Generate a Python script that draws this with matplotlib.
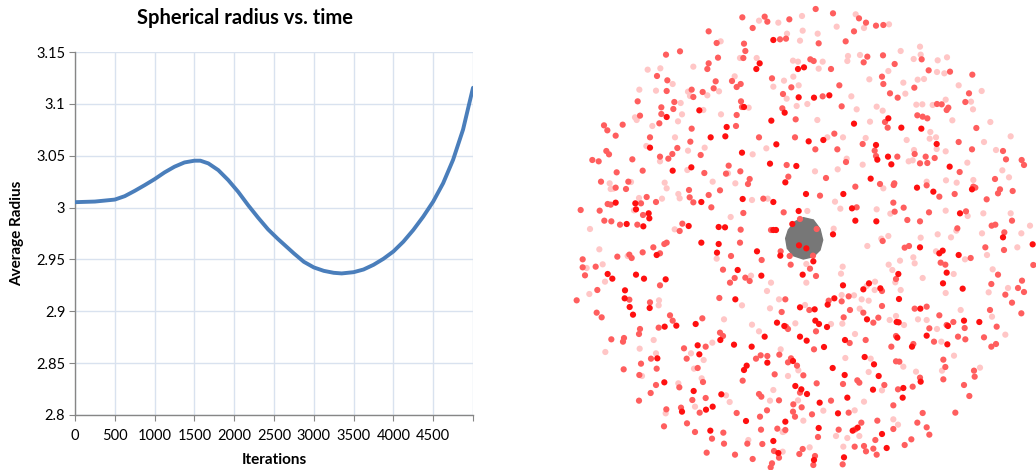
import matplotlib
matplotlib.use("Agg")
import numpy as np
import matplotlib.pyplot as plt
from matplotlib.patches import Polygon

plt.rcParams['font.family'] = ['Lato', 'DejaVu Sans']

# left chart: average radius over iterations
iterations = [0, 250, 500, 625, 750, 875, 1000, 1125, 1250, 1375, 1500, 1575, 1675, 1800,
              1925, 2050, 2175, 2300, 2425, 2550, 2625, 2750, 2875, 3000, 3125, 3250,
              3350, 3500, 3625, 3750, 3875, 4000, 4125, 4250, 4375, 4500, 4625, 4750,
              4875, 5000]
avg_radius = [3.0052, 3.0058, 3.0077, 3.011, 3.0161, 3.0216, 3.0274, 3.0339, 3.0394,
              3.0435, 3.0452, 3.0452, 3.0426, 3.0361, 3.0265, 3.0152, 3.0023, 2.9903,
              2.979, 2.9697, 2.9645, 2.9558, 2.9477, 2.9423, 2.939, 2.9371, 2.9365,
              2.9377, 2.9403, 2.9448, 2.9506, 2.9577, 2.9671, 2.9784, 2.9913, 3.0058,
              3.0235, 3.0461, 3.0752, 3.1155]
xtick_vals = [0, 500, 1000, 1500, 2000, 2500, 3000, 3500, 4000, 4500, 5000]
xtick_labels = ['0', '500', '1000', '1500', '2000', '2500', '3000', '3500', '4000', '4500', '']
ytick_vals = [2.8, 2.85, 2.9, 2.95, 3.0, 3.05, 3.1, 3.15]
ytick_labels = ['2.8', '2.85', '2.9', '2.95', '3', '3.05', '3.1', '3.15']

# right panel: projected particle positions (upper and lower halves of the view)
top_full = [(640,120),(732,202),(714,207),(599,190),(589,207),(716,292),(762,293),(808,286),
    (552,321),(418,331),(500,381),(496,409),(452,412),(320,351),(270,443),(338,512),(394,502),
    (546,458),(634,362),(674,338),(649,433),(746,424),(790,420),(882,371),(985,355),(1024,383),
    (1084,386),(948,435),(952,479),(984,470),(994,493),(709,498),(630,491),(676,547),(1169,500),
    (1130,432),(1236,568),(1120,575),(1071,563),(932,536),(850,582),(738,582),(876,625),(886,662),
    (949,664),(819,703),(716,633),(640,690),(648,690),(640,606),(548,597),(495,682),(476,681),
    (424,606),(386,678),(266,640),(268,655),(226,610),(228,628),(250,679),(200,672),(167,608),
    (1329,712),(1200,640),(697,672)]
top_med = [(767,27),(819,40),(547,52),(614,50),(688,58),(897,55),(622,65),(918,68),(948,77),
    (970,75),(578,84),(882,94),(446,94),(660,118),(678,116),(776,130),(857,124),(470,129),(552,131),
    (556,153),(318,164),(360,154),(922,170),(969,166),(1085,178),(474,173),(550,174),(751,178),
    (761,183),(813,207),(911,187),(1004,192),(966,230),(970,252),(1106,211),(1170,215),(1237,224),
    (446,190),(442,207),(291,228),(322,241),(320,273),(395,269),(400,291),(428,276),(461,265),
    (467,244),(516,243),(542,252),(530,261),(543,304),(546,321),(636,235),(694,262),(669,282),
    (788,289),(838,256),(1063,263),(990,280),(1013,293),(1227,280),(1216,306),(1165,323),(1160,330),
    (1145,313),(1131,312),(1072,346),(1088,350),(1102,355),(1249,384),(233,304),(240,347),(132,376),
    (142,391),(188,374),(167,407),(298,370),(304,342),(304,322),(340,327),(343,306),(395,386),
    (530,345),(528,378),(391,425),(352,444),(337,462),(325,476),(300,470),(270,412),(217,478),
    (139,453),(147,463),(97,480),(116,484),(170,517),(248,512),(205,545),(123,545),(167,563),
    (198,567),(422,465),(433,519),(480,571),(506,497),(498,521),(541,514),(569,537),(564,552),
    (597,412),(707,358),(705,412),(667,325),(766,448),(823,401),(832,448),(845,319),(975,366),
    (983,383),(1064,462),(1097,470),(1102,489),(1080,490),(908,432),(944,452),(948,468),(1012,470),
    (858,486),(798,534),(680,495),(685,530),(1196,426),(1236,448),(1329,453),(1338,478),(1199,516),
    (1124,474),(1240,560),(1246,563),(1184,582),(1138,590),(1100,556),(1003,550),(1001,555),
    (960,552),(886,560),(780,587),(890,622),(1004,635),(1000,608),(1031,623),(1042,660),(1107,637),
    (1218,634),(1305,537),(1320,568),(1314,580),(1280,598),(1358,573),(1356,662),(1306,674),
    (1295,677),(1333,697),(1192,685),(770,687),(720,657),(671,637),(633,690),(610,596),(550,639),
    (542,689),(454,622),(446,585),(400,607),(389,592),(387,570),(367,671),(359,693),(288,606),
    (249,645),(260,591),(243,610),(232,674),(180,674),(154,664),(133,662),(152,614),(143,612),
    (119,632),(62,630),(1385,480),(1392,495),(1080,664)]
top_light = [(726,48),(887,43),(597,62),(655,68),(987,73),(830,80),(912,84),(728,92),(681,101),
    (773,101),(720,122),(482,124),(864,168),(862,183),(900,165),(1022,153),(1080,140),(1082,164),
    (1061,177),(1133,181),(1161,172),(540,174),(590,174),(699,182),(714,185),(788,185),(776,206),
    (985,213),(1131,216),(1153,220),(400,200),(263,209),(301,205),(338,252),(238,269),(288,272),
    (384,275),(390,288),(442,286),(477,274),(524,229),(566,323),(640,260),(672,242),(700,230),
    (716,256),(680,296),(874,289),(928,238),(1030,248),(1073,239),(1092,237),(1036,281),(1196,256),
    (1265,273),(1233,305),(1239,328),(1157,299),(1118,315),(1087,313),(1069,314),(1177,361),
    (1291,366),(1352,409),(225,352),(230,360),(277,378),(362,309),(366,343),(354,364),(430,330),
    (483,343),(345,412),(259,438),(300,484),(320,565),(314,548),(382,510),(384,452),(434,443),
    (458,545),(504,520),(526,550),(578,463),(710,318),(742,312),(772,360),(802,412),(849,412),
    (890,328),(930,365),(950,320),(968,332),(1111,396),(1109,416),(1128,412),(1130,447),(1062,450),
    (1046,484),(1058,481),(1040,420),(917,414),(908,494),(860,476),(833,508),(765,514),(619,445),
    (1272,426),(1308,450),(1222,488),(1157,454),(1240,540),(1190,548),(1158,541),(1100,545),
    (970,565),(825,605),(841,626),(950,628),(991,641),(1157,632),(1223,648),(1270,640),(1327,511),
    (1347,532),(1352,640),(1384,700),(1410,677),(1266,700),(1189,692),(1173,712),(1133,703),
    (1082,713),(985,708),(964,716),(821,686),(742,633),(623,596),(576,600),(512,651),(359,595),
    (355,582),(344,688),(306,596),(237,594),(222,631),(90,687),(149,550),(160,566),(152,567),
    (213,546)]
bot_full = [(424,38),(476,42),(290,75),(143,132),(157,146),(195,181),(194,205),(209,231),(219,254),
    (228,134),(252,146),(317,148),(269,234),(349,287),(314,290),(292,385),(313,457),(407,282),
    (413,346),(418,373),(481,330),(522,344),(526,208),(575,350),(552,420),(560,407),(533,120),
    (471,68),(604,137),(591,64),(661,77),(717,46),(739,55),(760,94),(728,134),(849,166),(823,205),
    (803,224),(910,178),(927,160),(961,175),(1080,52),(1015,132),(1017,207),(1138,70),(1148,62),
    (1160,128),(1196,75),(1149,160),(1208,176),(1418,43),(1258,276),(1212,272),(1164,288),(1081,236),
    (1010,276),(1016,277),(1012,323),(1056,350),(1100,317),(1162,343),(1082,455),(1030,474),
    (1028,503),(980,654),(966,612),(893,593),(878,602),(862,503),(854,435),(914,381),(942,403),
    (956,438),(939,479),(855,330),(921,268),(801,291),(792,351),(740,332),(720,320),(720,232),
    (764,238),(766,272),(777,282),(673,288),(651,278),(614,320),(622,398),(699,393),(706,468),
    (724,478),(741,492),(779,518),(818,414),(834,550),(676,575),(640,633),(558,573),(484,493),
    (458,530),(438,539),(401,483),(366,545),(451,602),(655,669),(762,690),(776,594),(852,682)]
bot_med = [(540,38),(320,38),(313,42),(280,52),(248,67),(300,70),(208,74),(215,84),(172,80),
    (68,88),(107,110),(68,112),(75,136),(112,180),(50,211),(208,209),(110,248),(125,262),(300,166),
    (270,217),(330,256),(338,272),(296,293),(240,297),(237,312),(189,335),(192,324),(154,328),
    (273,386),(290,416),(243,401),(238,435),(191,418),(288,465),(272,489),(237,512),(358,472),
    (372,355),(380,386),(427,265),(437,350),(413,414),(429,456),(480,308),(489,318),(478,204),
    (548,452),(524,144),(489,119),(513,78),(510,158),(556,143),(569,153),(605,90),(662,64),(689,78),
    (692,104),(759,77),(750,116),(768,138),(806,212),(845,214),(866,199),(966,183),(968,33),
    (1034,53),(1047,48),(1008,147),(1142,98),(1156,104),(1232,84),(1276,52),(1332,60),(1420,105),
    (1314,134),(1294,162),(1336,194),(1374,174),(1392,186),(1386,152),(1356,218),(1384,250),
    (1290,240),(1310,290),(1272,322),(1294,350),(1308,342),(1180,276),(1214,294),(1216,328),
    (1194,320),(1160,285),(1138,256),(1108,295),(1100,230),(1064,236),(1008,318),(994,350),
    (1060,342),(1122,335),(1150,389),(1156,411),(1150,448),(1242,422),(1244,440),(1212,465),
    (1228,498),(1186,548),(1088,549),(1072,578),(1100,592),(1108,614),(1054,628),(1034,645),
    (1080,443),(1018,395),(1008,394),(1058,470),(1014,478),(1000,526),(1000,597),(946,630),
    (952,572),(940,656),(950,674),(918,664),(912,648),(884,650),(904,578),(886,598),(866,548),
    (849,462),(892,451),(898,458),(973,465),(869,339),(917,330),(940,278),(955,263),(966,228),
    (910,248),(870,240),(851,262),(762,358),(748,240),(768,304),(678,290),(684,297),(665,246),
    (676,208),(622,378),(602,376),(588,386),(658,374),(684,397),(693,385),(711,407),(730,436),
    (644,433),(720,488),(770,460),(813,512),(756,553),(705,560),(700,523),(725,532),(699,545),
    (657,511),(621,541),(600,560),(597,492),(604,500),(603,599),(607,642),(652,596),(676,600),
    (562,641),(530,549),(437,504),(419,548),(397,510),(363,533),(319,538),(312,589),(381,580),
    (405,606),(456,626),(490,608),(492,641),(440,668),(525,674),(578,687),(636,700),(632,712),
    (657,683),(718,672),(728,657),(765,678),(760,705),(774,621),(836,599),(848,703),(642,663)]
bot_light = [(118,58),(203,78),(80,114),(128,103),(135,155),(88,192),(297,211),(296,226),(136,366),
    (239,356),(281,330),(288,370),(246,438),(355,460),(393,370),(457,338),(431,390),(402,416),
    (425,445),(492,268),(546,226),(470,86),(573,137),(621,183),(633,158),(739,158),(739,102),
    (848,110),(843,131),(845,195),(882,196),(920,168),(945,155),(944,180),(926,212),(905,208),
    (922,48),(1060,82),(1064,100),(997,120),(986,104),(1020,92),(1006,157),(1022,180),(1088,144),
    (1128,64),(1215,88),(1181,132),(1157,189),(1281,75),(1372,52),(1298,118),(1286,187),(1344,174),
    (1296,260),(1336,314),(1202,240),(1131,297),(1100,270),(1074,268),(1032,285),(1008,258),
    (989,270),(1144,335),(1182,377),(1146,422),(1260,413),(1068,425),(1030,410),(1000,568),
    (1014,584),(862,624),(898,618),(884,541),(912,515),(932,386),(926,426),(966,481),(856,384),
    (885,312),(899,236),(847,281),(813,282),(735,225),(706,280),(657,208),(630,235),(597,304),
    (576,284),(662,358),(715,421),(684,438),(640,480),(790,542),(730,572),(714,511),(630,512),
    (565,630),(509,516),(498,496),(405,530),(317,550),(673,604),(668,606),(668,665),(749,652),
    (828,618),(850,650)]
bot_offset = 690
# outline of the grey core cluster
core_outline = [(730,653),(760,660),(780,687),(788,720),(780,750),(760,770),(730,777),
    (700,767),(682,745),(677,715),(685,690),(705,665)]

fig = plt.figure(figsize=(10.36, 4.70), dpi=100)

# ---- left: line chart ----
ax = fig.add_axes([75/1036, 1-415/470, 398/1036, 363/470])
ax.plot(iterations, avg_radius, color='#4A7EBB', lw=2.8, solid_capstyle='round',
        solid_joinstyle='round', zorder=3)
ax.set_xlim(0, 5000)
ax.set_ylim(2.8, 3.15)
ax.set_xticks(xtick_vals)
ax.set_xticklabels(xtick_labels)
ax.set_yticks(ytick_vals)
ax.set_yticklabels(ytick_labels)
ax.grid(True, color='#D9E2EF', lw=1.0, zorder=0)
for s in ['top', 'right']:
    ax.spines[s].set_visible(False)
for s in ['left', 'bottom']:
    ax.spines[s].set_color('#868686')
    ax.spines[s].set_linewidth(1.0)
ax.tick_params(direction='out', length=4, color='#868686', labelsize=10.5, pad=3)
ax.tick_params(axis='x', pad=6)
ax.set_ylabel('Average Radius', fontsize=11, fontweight='bold', labelpad=9)
ax.set_xlabel('Iterations', fontsize=11, fontweight='bold', labelpad=7)
fig.text(245/1036, 1-18/470, 'Spherical radius vs. time', ha='center', va='center',
         fontsize=14.5, fontweight='bold')

# ---- right: particle view ----
ax2 = fig.add_axes([560/1036, 0, 476/1036, 1])
ax2.set_xlim(0, 1428)
ax2.set_ylim(1410, 0)
ax2.axis('off')

ax2.add_patch(Polygon(core_outline, closed=True, facecolor='#777777', edgecolor='#777777', zorder=1))

def draw(pts, offset, color, z):
    arr = np.array(pts, dtype=float)
    ax2.scatter(arr[:, 0], arr[:, 1] + offset, s=20, color=color, edgecolors='none', zorder=z)

draw(top_light, 0, '#FFC6C6', 2)
draw(bot_light, bot_offset, '#FFC6C6', 2)
draw(top_med, 0, '#FF5E5E', 3)
draw(bot_med, bot_offset, '#FF5E5E', 3)
draw(top_full, 0, '#FF1010', 4)
draw(bot_full, bot_offset, '#FF1010', 4)

fig.savefig('out.png', dpi=100)
